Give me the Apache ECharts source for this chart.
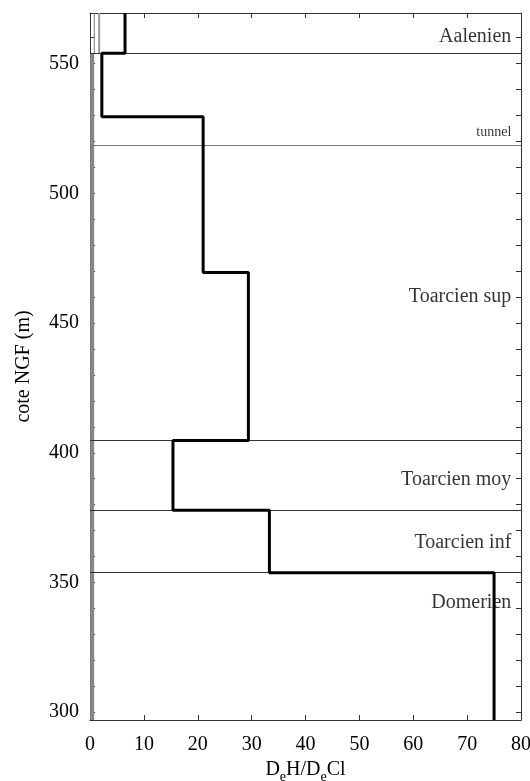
<!DOCTYPE html>
<html>
<head>
<meta charset="utf-8">
<script src="https://cdn.jsdelivr.net/npm/echarts@6/dist/echarts.min.js"></script>
<style>
html,body{margin:0;padding:0;background:#fff;}
#container{width:530px;height:781px;}
</style>
</head>
<body>
<div id="container"></div>
<script>
// DeH/DeCl profile (black step line)
var stepValues  = [6.5, 2.2, 21, 29.4, 15.4, 33.3, 75];
var stepTops    = [569.5, 554, 529.5, 469.5, 404.7, 377.8, 353.8];
var stepBottoms = [554, 529.5, 469.5, 404.7, 377.8, 353.8, 297];

// gray profiles near zero
var grayLow  = [[0.4, 297], [0.4, 554]];
var grayTop1 = [[0.8, 554], [0.8, 569.5]];
var grayTop2 = [[1.7, 554], [1.7, 569.5]];

// stratigraphic limits
var limits = [554, 404.7, 377.8, 353.8];
var tunnelLevel = 518.5;

var zoneNames = ['Aalenien', 'Toarcien sup', 'Toarcien moy', 'Toarcien inf', 'Domerien'];
var zoneLabelY = [560.2, 460, 389.5, 365.2, 342.1];
var labelX = 78.2;

var yTicks = [300,310,320,330,340,350,360,370,380,390,400,410,420,430,440,450,460,470,480,490,500,510,520,530,540,550,560];
var yLabels = [300, 350, 400, 450, 500, 550];

var font = "'Liberation Serif','DejaVu Serif',serif";

var e={
	init:function(){
		var myChart = echarts.init(document.getElementById('container'));
		var profile = [];
		for (var i = 0; i < stepValues.length; i++) {
			profile.push([stepValues[i], stepTops[i]]);
			profile.push([stepValues[i], stepBottoms[i]]);
		}
		var zoneData = [];
		for (var j = 0; j < zoneNames.length; j++) {
			zoneData.push({name: zoneNames[j], value: [labelX, zoneLabelY[j]]});
		}
		var axisCommon = {
			type: 'value',
			axisLine: {show: true, onZero: false, lineStyle: {color: '#333', width: 1}},
			axisTick: {show: true, inside: true, length: 5, lineStyle: {color: '#333'}},
			splitLine: {show: false}
		};
		var option = {
			backgroundColor: '#fff',
			animation: false,
			grid: {left: 90, right: 9, top: 13, bottom: 61, show: false, containLabel: false, outerBoundsMode: 'none'},
			xAxis: [
				Object.assign({}, axisCommon, {
					position: 'bottom', min: 0, max: 80, interval: 10,
					axisLabel: {color: '#000', fontSize: 20, fontFamily: font, margin: 15},
					name: '{n|D}{s|e}{n|H/D}{s|e}{n|Cl}',
					nameLocation: 'middle', nameGap: 29,
					nameTextStyle: {
						fontFamily: font,
						rich: {
							n: {fontSize: 20, fontFamily: font, color: '#000', verticalAlign: 'bottom', lineHeight: 22},
							s: {fontSize: 14, fontFamily: font, color: '#000', verticalAlign: 'bottom', lineHeight: 22, padding: [0,0,-4,0]}
						}
					}
				}),
				Object.assign({}, axisCommon, {
					position: 'top', min: 0, max: 80, interval: 10,
					axisLabel: {show: false}
				})
			],
			yAxis: [
				Object.assign({}, axisCommon, {
					position: 'left', min: 297, max: 569.5,
					axisTick: {show: true, inside: true, length: 5, customValues: yTicks, lineStyle: {color: '#333'}},
					axisLabel: {color: '#000', fontSize: 20, fontFamily: font, margin: 11, customValues: yLabels},
					name: 'cote NGF (m)', nameLocation: 'middle', nameGap: 56,
					nameTextStyle: {color: '#000', fontSize: 20, fontFamily: font}
				}),
				Object.assign({}, axisCommon, {
					position: 'right', min: 297, max: 569.5,
					axisTick: {show: true, inside: true, length: 5, customValues: yTicks, lineStyle: {color: '#333'}},
					axisLabel: {show: false}
				})
			],
			series: [{
				type: 'line', data: grayLow, symbol: 'none',
				lineStyle: {color: '#888', width: 4}, z: 2
			},{
				type: 'line', data: grayTop1, symbol: 'none',
				lineStyle: {color: '#777', width: 1}, z: 2
			},{
				type: 'line', data: grayTop2, symbol: 'none',
				lineStyle: {color: '#999', width: 2}, z: 2
			},{
				type: 'line', data: [], symbol: 'none',
				markLine: {
					silent: true, symbol: 'none', animation: false,
					label: {show: false},
					lineStyle: {color: '#333', width: 1, type: 'solid'},
					data: limits.map(function(v){ return {yAxis: v}; })
						.concat([{yAxis: tunnelLevel, lineStyle: {color: '#777', width: 1, type: 'solid'}}])
				}
			},{
				type: 'line', data: profile, symbol: 'none',
				lineStyle: {color: '#000', width: 3}, z: 5
			},{
				type: 'scatter', data: zoneData, symbolSize: 0,
				label: {
					show: true, position: 'left', distance: 0,
					formatter: '{b}', color: '#000', fontSize: 20, fontFamily: font
				}
			},{
				type: 'scatter', data: [{name: 'tunnel', value: [labelX, 523.5]}], symbolSize: 0,
				label: {
					show: true, position: 'left', distance: 0,
					formatter: '{b}', color: '#000', fontSize: 14, fontFamily: font
				}
			}]
		};
		myChart.setOption(option);
	}
};
e.init();
</script>
</body>
</html>
